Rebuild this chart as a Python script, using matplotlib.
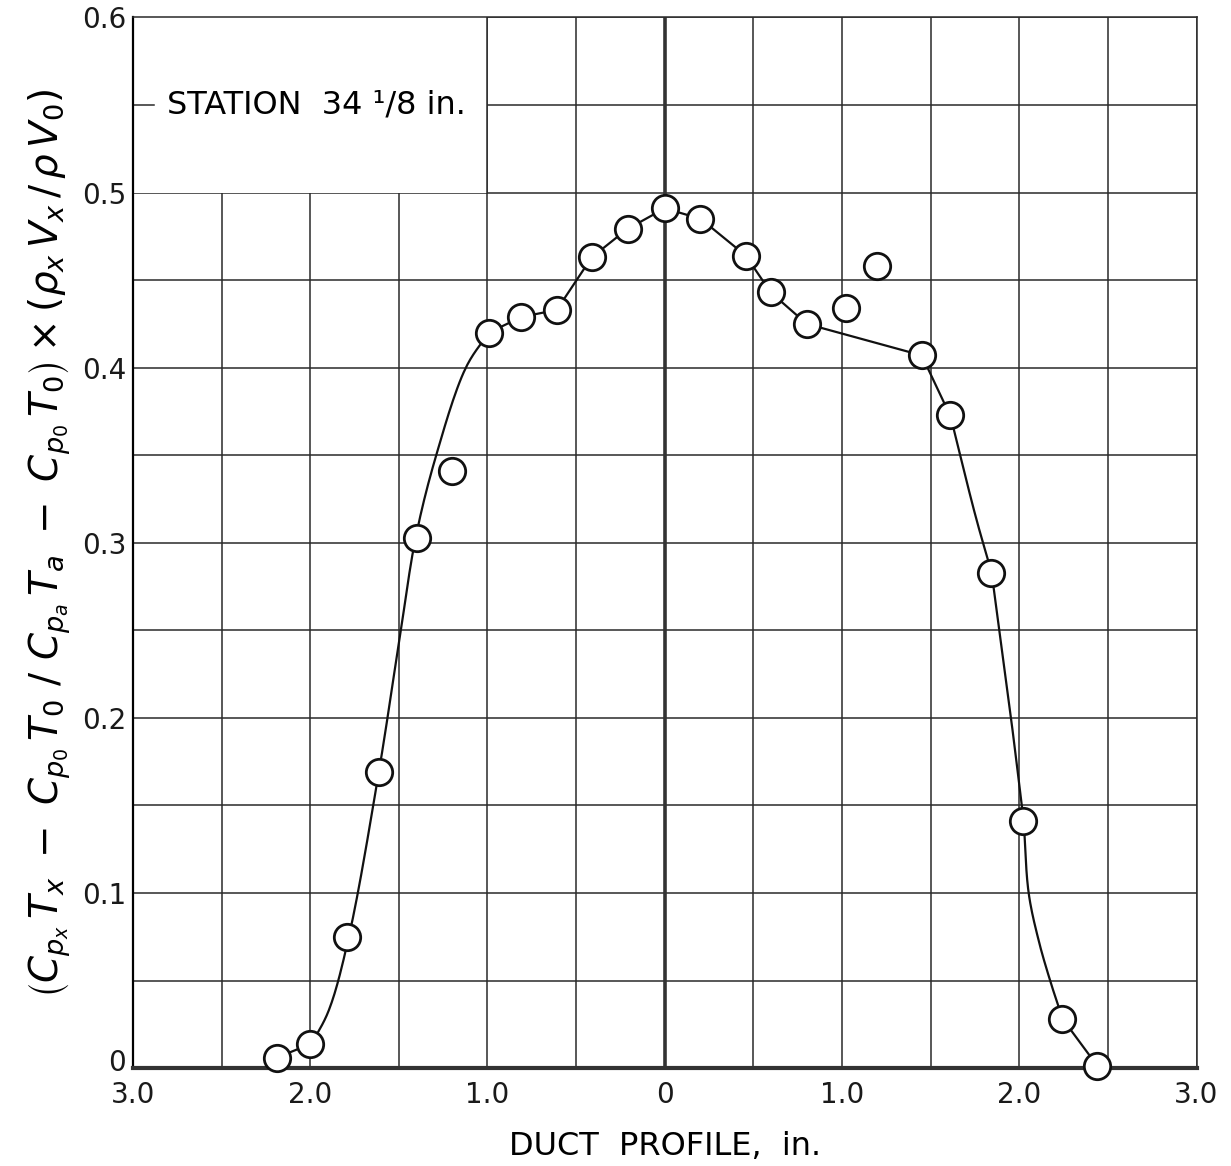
import matplotlib
matplotlib.use("Agg")
import numpy as np
import matplotlib.pyplot as plt
from matplotlib.patches import Rectangle
from matplotlib.ticker import MultipleLocator
from matplotlib.transforms import ScaledTranslation

# measured points
pt_x = [-2.19, -2.00, -1.79, -1.61, -1.40, -1.20, -0.99, -0.81, -0.61, -0.41, -0.21, 0.00,
        0.20, 0.46, 0.60, 0.80, 1.02, 1.20, 1.45, 1.61, 1.84, 2.02, 2.24, 2.44]
pt_y = [0.006, 0.014, 0.075, 0.169, 0.303, 0.341, 0.420, 0.429, 0.433, 0.463, 0.479, 0.491,
        0.485, 0.464, 0.443, 0.425, 0.434, 0.458, 0.407, 0.373, 0.283, 0.141, 0.028, 0.001]

# faired curve knots; corner flags mark where the drawn line bends sharply
curve_x = [-2.188, -1.991, -1.895, -1.782, -1.613, -1.489, -1.405, -1.292, -1.122, -0.993,
           -0.807, -0.609, -0.412, -0.214, 0.0, 0.203, 0.457, 0.598, 0.801, 1.450,
           1.613, 1.754, 1.844, 1.957, 2.025, 2.053, 2.109, 2.177, 2.245, 2.442]
curve_y = [0.006, 0.014, 0.033, 0.075, 0.169, 0.250, 0.303, 0.349, 0.400, 0.420,
           0.429, 0.433, 0.463, 0.479, 0.491, 0.485, 0.464, 0.443, 0.425, 0.407,
           0.372, 0.315, 0.283, 0.197, 0.141, 0.100, 0.073, 0.049, 0.028, 0.001]
curve_corner = [1, 1, 0, 0, 0, 0, 0, 0, 0, 1,
                1, 1, 1, 1, 1, 1, 1, 1, 1, 1,
                1, 0, 1, 0, 1, 0, 0, 0, 1, 1]

x_ticks = [-3, -2, -1, 0, 1, 2, 3]
x_ticklabels = ["3.0", "2.0", "1.0", "0", "1.0", "2.0", "3.0"]
y_ticks = [0, 0.1, 0.2, 0.3, 0.4, 0.5, 0.6]
y_ticklabels = ["0", "0.1", "0.2", "0.3", "0.4", "0.5", "0.6"]

SX, SY = 177.3, 1750.0  # pixel scale, so smoothing works in screen-like units


def cr_piece(P, n=16):
    """Centripetal Catmull-Rom through the knots of one smooth piece."""
    if len(P) == 2:
        return P
    Q = np.vstack([2 * P[0] - P[1], P, 2 * P[-1] - P[-2]])
    out = []
    for i in range(1, len(Q) - 2):
        p0, p1, p2, p3 = Q[i - 1], Q[i], Q[i + 1], Q[i + 2]
        t0 = 0.0
        t1 = t0 + max(np.linalg.norm(p1 - p0), 1e-9) ** 0.5
        t2 = t1 + max(np.linalg.norm(p2 - p1), 1e-9) ** 0.5
        t3 = t2 + max(np.linalg.norm(p3 - p2), 1e-9) ** 0.5
        t = np.linspace(t1, t2, n)[:, None]
        a1 = (t1 - t) / (t1 - t0) * p0 + (t - t0) / (t1 - t0) * p1
        a2 = (t2 - t) / (t2 - t1) * p1 + (t - t1) / (t2 - t1) * p2
        a3 = (t3 - t) / (t3 - t2) * p2 + (t - t2) / (t3 - t2) * p3
        b1 = (t2 - t) / (t2 - t0) * a1 + (t - t0) / (t2 - t0) * a2
        b2 = (t3 - t) / (t3 - t1) * a2 + (t - t1) / (t3 - t1) * a3
        c = (t2 - t) / (t2 - t1) * b1 + (t - t1) / (t2 - t1) * b2
        out.append(c if i == 1 else c[1:])
    return np.vstack(out)


def faired_line(xs, ys, corners):
    P = np.column_stack([np.asarray(xs) * SX, np.asarray(ys) * SY])
    cidx = [i for i, c in enumerate(corners) if c]
    parts = []
    for a, b in zip(cidx[:-1], cidx[1:]):
        seg = cr_piece(P[a:b + 1])
        parts.append(seg if not parts else seg[1:])
    C = np.vstack(parts)
    return C[:, 0] / SX, C[:, 1] / SY


plt.rcParams['font.family'] = ['DejaVu Sans']
plt.rcParams['mathtext.fontset'] = 'dejavusans'

fig = plt.figure(figsize=(12.31, 11.66), dpi=100)
ax = fig.add_axes([0.108, 0.084, 0.864, 0.901])
ax.set_xlim(-3, 3)
ax.set_ylim(0, 0.6)

ax.set_xticks(x_ticks)
ax.set_xticklabels(x_ticklabels)
ax.set_yticks(y_ticks)
ax.set_yticklabels(y_ticklabels)
ax.xaxis.set_minor_locator(MultipleLocator(0.5))
ax.yaxis.set_minor_locator(MultipleLocator(0.05))
ax.tick_params(which='both', length=0, labelsize=20, colors='#1a1a1a')
ax.tick_params(axis='x', pad=9)
ax.tick_params(axis='y', pad=5)
ax.set_axisbelow(True)
ax.grid(which='both', color='#2a2a2a', linewidth=1.1)

# lift the "0" y label a little, as in the reference
lab0 = ax.get_yticklabels()[0]
lab0.set_transform(lab0.get_transform() + ScaledTranslation(0, 6 / 72, fig.dpi_scale_trans))

for s in ['top', 'right']:
    ax.spines[s].set_linewidth(1.1)
    ax.spines[s].set_color('#2a2a2a')
ax.spines['left'].set_linewidth(1.6)
ax.spines['bottom'].set_linewidth(3.0)
ax.spines['bottom'].set_color('#333333')
ax.axvline(0, color='#333333', linewidth=2.6, zorder=1)

# white label box in the upper-left cell block
ax.add_patch(Rectangle((-3, 0.5), 2, 0.1, facecolor='white', edgecolor='none', zorder=1.2))
ax.plot([-3, -2.88], [0.55, 0.55], color='#2a2a2a', linewidth=1.1, zorder=1.3)
ax.plot([-1.0, -1.0], [0.5, 0.6], color='#2a2a2a', linewidth=1.1, zorder=1.3)
ax.text(-2.81, 0.55, "STATION  34 \u00b9/8 in.", fontsize=23, va='center', ha='left', zorder=1.4)

lx, ly = faired_line(curve_x, curve_y, curve_corner)
ax.plot(lx, ly, color='#111111', linewidth=1.6, zorder=2, solid_joinstyle='round')
ax.plot(pt_x, pt_y, linestyle='none', marker='o', markersize=19,
        markerfacecolor='white', markeredgecolor='#111111', markeredgewidth=2.0, zorder=3,
        clip_on=False)

ax.set_xlabel("DUCT  PROFILE,  in.", fontsize=23, labelpad=16)
ax.set_ylabel(r"$\left(C_{p_x}\,T_x\ -\ C_{p_0}\,T_0\ /\ C_{p_a}\,T_a\ -\ C_{p_0}\,T_0\right)\times\left(\rho_x\,V_x\,/\,\rho\,V_0\right)$",
              fontsize=28, labelpad=6)

fig.savefig("out.png", dpi=100, facecolor='white')
